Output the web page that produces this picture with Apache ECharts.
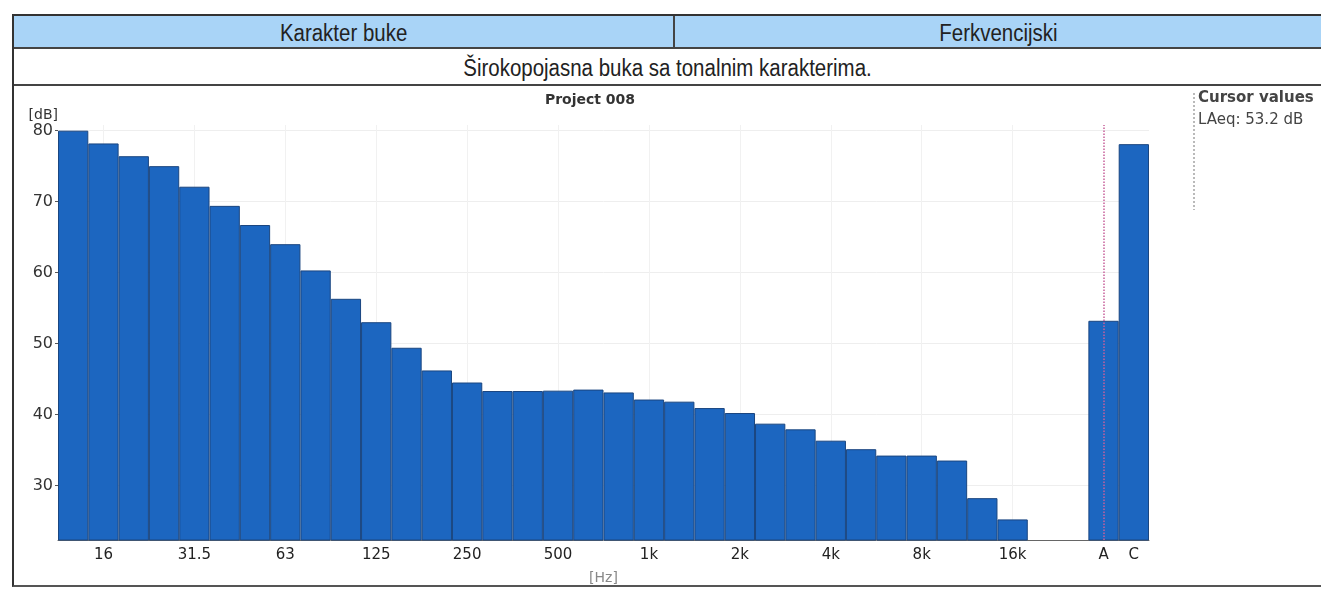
<!DOCTYPE html>
<html>
<head>
<meta charset="utf-8">
<script src="https://cdn.jsdelivr.net/npm/echarts@6/dist/echarts.min.js"></script>
<style>
  html,body{margin:0;padding:0;background:#fff;width:1321px;height:590px;overflow:hidden;}
  #frame{position:absolute;left:12px;top:14px;width:1320px;height:573px;border-left:2px solid #333;border-top:2px solid #333;border-bottom:2px solid #555;box-sizing:border-box;}
  .hdr{position:absolute;top:16px;height:33px;background:#a9d4f7;font-family:'Liberation Sans',Arial,sans-serif;font-size:23px;color:#222;text-align:center;line-height:34px;border-bottom:2px solid #444;box-sizing:border-box;}
  .hdr span,#row2 span{display:inline-block;transform:scaleX(0.89);}
  #h1{left:14px;width:661px;border-right:2px solid #444;}
  #h2{left:675px;width:646px;}
  #row2{position:absolute;left:14px;top:49px;width:1307px;height:37px;border-bottom:2px solid #444;box-sizing:border-box;font-family:'Liberation Sans',Arial,sans-serif;font-size:23px;color:#222;text-align:center;line-height:38px;}
  #chart{position:absolute;left:0;top:0;width:1321px;height:590px;}
</style>
</head>
<body>
<div id="frame"></div>
<div class="hdr" id="h1"><span>Karakter buke</span></div>
<div class="hdr" id="h2"><span>Ferkvencijski</span></div>
<div id="row2"><span>Širokopojasna buka sa tonalnim karakterima.</span></div>
<div id="chart"></div>
<script>
const bandLabels = ['12.5','16','20','25','31.5','40','50','63','80','100','125','160','200','250','315','400','500','630','800','1k','1.25k','1.6k','2k','2.5k','3.15k','4k','5k','6.3k','8k','10k','12.5k','16k','20k'];
const bandValues = [80.0,78.2,76.4,75.0,72.1,69.4,66.7,64.0,60.3,56.3,53.0,49.4,46.2,44.5,43.3,43.3,43.35,43.5,43.1,42.1,41.8,40.9,40.2,38.7,37.9,36.3,35.1,34.2,34.2,33.5,28.2,25.2,null];
const totalLabels = ['A','C'];
const totalValues = [53.2,78.1];
const shownTicks = ['16','31.5','63','125','250','500','1k','2k','4k','8k','16k','A','C'];
const yTicks = [30,40,50,60,70,80];

const categories = bandLabels.concat([''], totalLabels);
const values = bandValues.concat([null], totalValues);

const chart = echarts.init(document.getElementById('chart'));
const font = "'DejaVu Sans', Verdana, sans-serif";
chart.setOption({
  animation:false,
  title:{text:'Project 008', left:585, top:88, textAlign:'center',
    textStyle:{fontFamily:font, fontSize:14, fontWeight:'bold', color:'#333'}},
  grid:{left:58, right:172, top:125, bottom:47},
  xAxis:{
    type:'category', data:categories,
    name:'[Hz]', nameLocation:'middle', nameGap:31,
    nameTextStyle:{fontFamily:font, fontSize:14, color:'#888'},
    axisLine:{lineStyle:{color:'#666', width:1}},
    axisTick:{alignWithLabel:true, length:4, lineStyle:{color:'#555'},
      interval:function(i,v){return shownTicks.indexOf(categories[i])>=0;}},
    axisLabel:{fontFamily:font, fontSize:15, color:'#222', margin:8,
      interval:function(i,v){return shownTicks.indexOf(v)>=0;}},
    splitLine:{show:false}
  },
  yAxis:{
    type:'value', min:22.3, max:80.8,
    name:'[dB]', nameLocation:'end', nameGap:2,
    nameTextStyle:{fontFamily:font, fontSize:14, color:'#333', align:'right', padding:[0,0,0,0]},
    axisLine:{show:false},
    axisTick:{show:true, length:3, customValues:yTicks, lineStyle:{color:'#555'}},
    axisLabel:{fontFamily:font, fontSize:16, color:'#333', margin:5, customValues:yTicks},
    splitLine:{show:false}
  },
  series:[
    {
      type:'line', data:[], z:1, silent:true,
      markLine:{
        z:1, silent:true, symbol:'none', label:{show:false}, animation:false,
        data: yTicks.map(function(t){return {yAxis:t, lineStyle:{color:'#eeeeee', type:'solid', width:1}};})
          .concat(shownTicks.slice(0,11).map(function(c){return {xAxis:c, lineStyle:{color:'#f1f1f1', type:'solid', width:1}};}))
      }
    },
    {
      type:'bar', data:values, barCategoryGap:'0%', z:2,
      itemStyle:{color:'#1c66c0', borderColor:'#1a4680', borderWidth:1}
    },
    {
      type:'line', data:[], z:3, silent:true,
      markLine:{
        z:5, silent:true, symbol:'none', label:{show:false}, animation:false,
        data:[{xAxis:'A', lineStyle:{color:'#c8609a', type:'dotted', width:1.5}}]
      }
    }
  ],
  graphic:[
    {type:'line', shape:{x1:1194, y1:93, x2:1194, y2:210}, style:{stroke:'#777', lineDash:[2,2], lineWidth:1}},
    {type:'text', left:1198, top:91, style:{text:'Cursor values', font:"bold 15px 'DejaVu Sans', Verdana, sans-serif", fill:'#444'}},
    {type:'text', left:1198, top:113, style:{text:'LAeq: 53.2 dB', font:"15px 'DejaVu Sans', Verdana, sans-serif", fill:'#444'}}
  ]
});
</script>
</body>
</html>
